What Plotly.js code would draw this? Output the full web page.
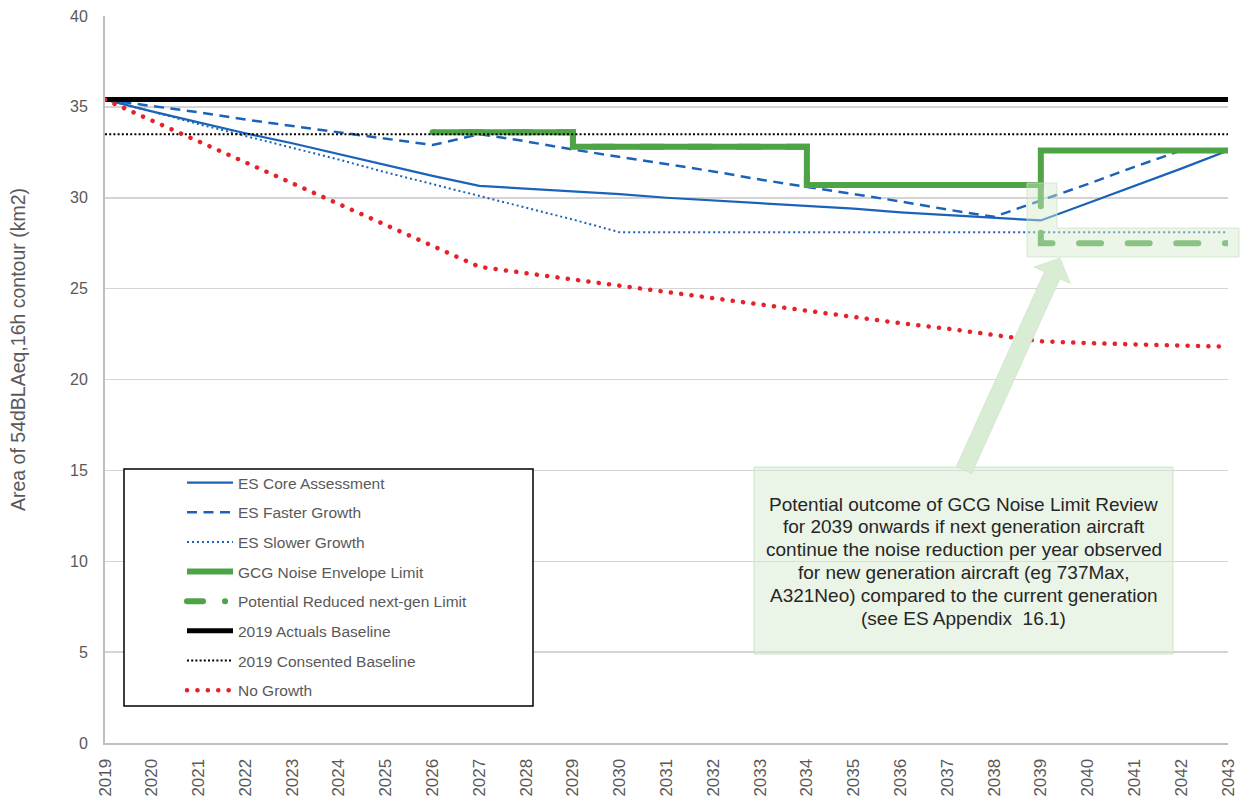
<!DOCTYPE html>
<html>
<head>
<meta charset="utf-8">
<script src="https://cdn.plot.ly/plotly-3.0.1.min.js"></script>
<style>
html,body{margin:0;padding:0;background:#fff;}
#chart{width:1247px;height:801px;}
</style>
</head>
<body>
<div id="chart"></div>
<script>
// ---- data ----
const years = [2019,2020,2021,2022,2023,2024,2025,2026,2027,2028,2029,2030,2031,2032,2033,2034,2035,2036,2037,2038,2039,2040,2041,2042,2043];
const tickLabels = years.map(String);

const coreAssessment = [35.4,34.75,34.15,33.55,33.0,32.4,31.8,31.2,30.65,30.5,30.35,30.2,30.0,29.85,29.7,29.55,29.4,29.2,29.05,28.9,28.75,29.7,30.65,31.6,32.6];
const fasterGrowth   = [35.4,35.05,34.7,34.3,33.95,33.6,33.25,32.9,33.5,33.1,32.65,32.25,31.85,31.45,31.0,30.6,30.2,29.8,29.35,28.95,29.85,30.75,31.7,32.6,32.6];
const slowerGrowth   = [35.4,34.75,34.05,33.4,32.75,32.1,31.4,30.75,30.1,29.45,28.8,28.1,28.1,28.1,28.1,28.1,28.1,28.1,28.1,28.1,28.1,28.1,28.1,28.1,28.1];
const noGrowth       = [35.4,34.25,33.1,31.95,30.8,29.65,28.5,27.35,26.2,25.85,25.5,25.2,24.85,24.5,24.15,23.8,23.45,23.1,22.8,22.45,22.1,22.0,21.95,21.85,21.8];

const limitYears = [2026,2027,2028,2029,2030,2031,2032,2033,2034,2035,2036,2037,2038,2039,2040,2041,2042,2043];
const gcgLimit       = [33.6,33.6,33.6,32.8,32.8,32.8,32.8,32.8,30.7,30.7,30.7,30.7,30.7,32.6,32.6,32.6,32.6,32.6];
const reducedLimit   = [33.6,33.6,33.6,32.8,32.8,32.8,32.8,32.8,30.7,30.7,30.7,30.7,30.7,27.5,27.5,27.5,27.5,27.5];

const baselineYears = [2019,2043];
const actualsBaseline   = [35.4,35.4];
const consentedBaseline = [33.5,33.5];

const seriesNames = ['ES Core Assessment','ES Faster Growth','ES Slower Growth','GCG Noise Envelope Limit',
  'Potential Reduced next-gen Limit','2019 Actuals Baseline','2019 Consented Baseline','No Growth'];

const yTitle = 'Area of 54dBLAeq,16h contour (km2)';
const noteLines = [
  'Potential outcome of GCG Noise Limit Review',
  'for 2039 onwards if next generation aircraft',
  'continue the noise reduction per year observed',
  'for new generation aircraft (eg 737Max,',
  'A321Neo) compared to the current generation',
  '(see ES Appendix\u00a0 16.1)'
];

// ---- styling ----
const FONT = 'Liberation Sans, Arial, sans-serif';
const BLUE = '#1b63b8', GREEN = '#4ea346', RED = '#e8202a';
const L = 105, R = 19, T = 16, B = 58, W = 1247, H = 801;
const PW = W - L - R, PH = H - T - B;
const PX = p => (p - L) / PW;
const PY = p => (H - B - p) / PH;

function tr(x, y, i, line) {
  return {x: x, y: y, name: seriesNames[i], type: 'scatter', mode: 'lines',
    line: line, legendgroup: 'g' + i, hoverinfo: 'skip'};
}
const traces = [
  tr(years, coreAssessment, 0, {color: BLUE, width: 2.25}),
  tr(years, fasterGrowth, 1, {color: BLUE, width: 2.5, dash: '10px,6.5px'}),
  tr(years, slowerGrowth, 2, {color: BLUE, width: 2, dash: '2px,3px'}),
  tr(limitYears, gcgLimit, 3, {color: GREEN, width: 6, shape: 'hv'}),
  tr(limitYears, reducedLimit, 4, {color: GREEN, width: 6, shape: 'hv', dash: '1.8px,26.6px,20.2px,0px'}),
  tr(baselineYears, actualsBaseline, 5, {color: '#000000', width: 5}),
  tr(baselineYears, consentedBaseline, 6, {color: '#000000', width: 2, dash: '2px,2.2px'}),
  tr(years, noGrowth, 7, {color: RED, width: 4.5, dash: '0.1px,10.3px'})
];

function pathOf(pts) {
  return 'M' + pts.map(p => PX(p[0]).toFixed(5) + ',' + PY(p[1]).toFixed(5)).join('L') + 'Z';
}

const shapes = [
  // legend box
  {type: 'rect', xref: 'paper', yref: 'paper', x0: PX(124), x1: PX(533), y0: PY(706), y1: PY(469),
   fillcolor: '#ffffff', line: {color: '#000000', width: 1.5}, layer: 'above'},
  // highlight around reduced limit
  {type: 'path', xref: 'paper', yref: 'paper', layer: 'above',
   path: pathOf([[1027,183],[1057,183],[1057,228],[1239,228],[1239,257],[1027,257]]),
   fillcolor: 'rgba(210,233,204,0.45)', line: {color: 'rgba(200,226,194,0.7)', width: 1}},
  // note box
  {type: 'rect', xref: 'paper', yref: 'paper', x0: PX(754), x1: PX(1173), y0: PY(654), y1: PY(467),
   fillcolor: 'rgba(213,234,207,0.5)', line: {color: 'rgba(200,226,194,0.9)', width: 1}, layer: 'above'},
  // arrow
  {type: 'path', xref: 'paper', yref: 'paper', layer: 'above',
   path: pathOf([[1060,258],[1070.4,283.6],[1059.9,278.8],[971.7,473.5],[956.3,466.5],[1044.5,271.8],[1034,267]]),
   fillcolor: '#d9edd4', line: {color: 'rgba(195,222,188,0.9)', width: 0.6}}
];

const annotations = noteLines.map((t, k) => ({
  xref: 'paper', yref: 'paper', x: PX(963.5), y: PY(504 + k * 22.8), xanchor: 'center', yanchor: 'middle',
  showarrow: false, align: 'center', text: t, font: {family: FONT, size: 19, color: '#262626'}
}));
annotations.push({
  xref: 'paper', yref: 'paper', x: PX(18), y: PY(350), xanchor: 'center', yanchor: 'middle',
  showarrow: false, textangle: -90, text: yTitle, font: {family: FONT, size: 19.5, color: '#595959'}
});

const layout = {
  width: W, height: H,
  margin: {l: L, r: R, t: T, b: B, pad: 0},
  paper_bgcolor: '#ffffff', plot_bgcolor: '#ffffff',
  font: {family: FONT, color: '#595959'},
  showlegend: true,
  legend: {x: PX(182), y: PY(466), xanchor: 'left', yanchor: 'top',
    bgcolor: 'rgba(0,0,0,0)', borderwidth: 0, traceorder: 'grouped', tracegroupgap: 6.5,
    itemwidth: 46, font: {family: FONT, size: 15.5, color: '#595959'}},
  xaxis: {range: [2019, 2043], tickmode: 'array', tickvals: years, ticktext: tickLabels,
    tickangle: -90, tickfont: {family: FONT, size: 17, color: '#595959'},
    showgrid: false, zeroline: false, showline: true, linecolor: '#bfbfbf', linewidth: 2,
    ticks: '', ticklabelstandoff: 7, fixedrange: true},
  yaxis: {range: [0, 40], tick0: 0, dtick: 5, showgrid: true, gridcolor: '#d4d4d4', gridwidth: 1.5,
    zeroline: false, showline: true, linecolor: '#bfbfbf', linewidth: 2, ticks: '',
    ticklabelstandoff: 12, tickfont: {family: FONT, size: 16, color: '#595959'},
    fixedrange: true},
  shapes: shapes,
  annotations: annotations
};

Plotly.newPlot('chart', traces, layout, {staticPlot: true, displayModeBar: false}).then(function () {
  const roundIdx = [4, 7];
  const traceEls = document.querySelectorAll('.scatterlayer .trace');
  roundIdx.forEach(i => {
    if (traceEls[i]) traceEls[i].querySelectorAll('path.js-line').forEach(p => p.style.strokeLinecap = 'round');
  });
  const legEls = document.querySelectorAll('.legend .traces');
  roundIdx.forEach(i => {
    if (legEls[i]) legEls[i].querySelectorAll('path').forEach(p => p.style.strokeLinecap = 'round');
  });
  if (legEls[4]) legEls[4].querySelectorAll('path.js-line').forEach(p => p.style.strokeDasharray = '16px,22px,0.1px,100px');
});
</script>
</body>
</html>
